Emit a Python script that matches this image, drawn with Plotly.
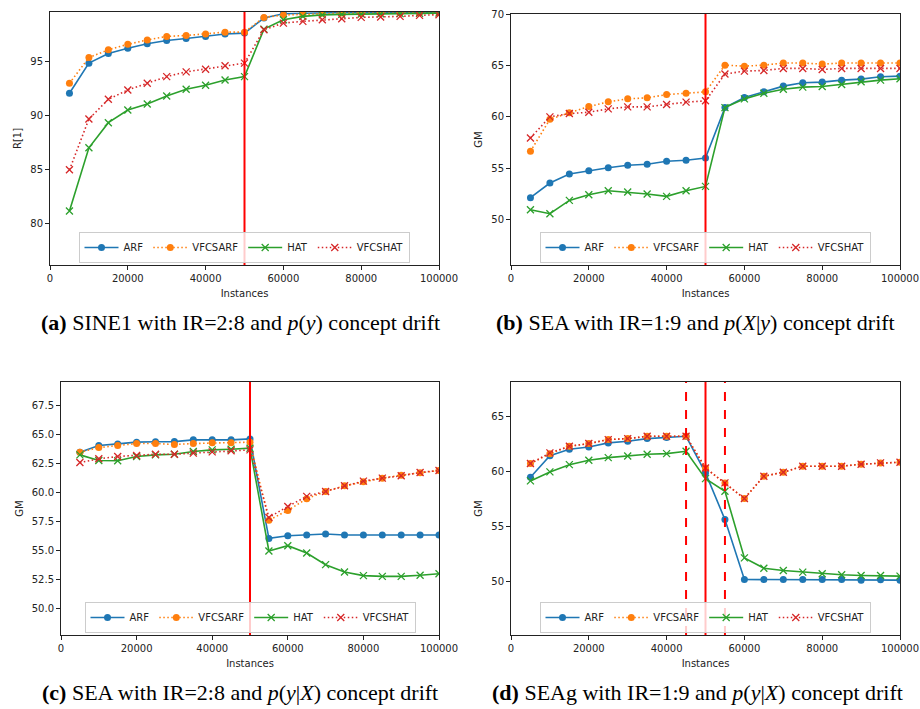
import plotly.graph_objects as go

W, H = 920, 709

instances = [5000, 10000, 15000, 20000, 25000, 30000, 35000, 40000, 45000, 50000,
             55000, 60000, 65000, 70000, 75000, 80000, 85000, 90000, 95000, 100000]
series_names = ["ARF", "VFCSARF", "HAT", "VFCSHAT"]

# (a) SINE1, R[1]
a_arf = [92.05, 94.85, 95.75, 96.24, 96.65, 96.96, 97.14, 97.33, 97.55, 97.64,
         99.04, 99.44, 99.50, 99.55, 99.55, 99.56, 99.56, 99.57, 99.57, 99.58]
a_vfcsarf = [92.98, 95.37, 96.09, 96.60, 97.00, 97.33, 97.42, 97.55, 97.73, 97.73,
             99.10, 99.32, 99.40, 99.48, 99.50, 99.50, 99.50, 99.52, 99.52, 99.53]
a_hat = [81.12, 86.99, 89.32, 90.50, 91.06, 91.80, 92.42, 92.80, 93.29, 93.60,
         98.01, 98.88, 99.19, 99.33, 99.38, 99.40, 99.43, 99.45, 99.47, 99.50]
a_vfcshat = [84.94, 89.66, 91.49, 92.36, 92.98, 93.60, 94.04, 94.29, 94.60, 94.85,
             97.95, 98.57, 98.73, 98.88, 98.97, 99.10, 99.13, 99.19, 99.29, 99.35]

# (b) SEA IR=1:9, GM
b_arf = [52.14, 53.57, 54.45, 54.77, 55.06, 55.29, 55.39, 55.68, 55.78, 56.00,
         60.90, 61.88, 62.43, 62.99, 63.31, 63.38, 63.57, 63.67, 63.90, 63.96]
b_vfcsarf = [56.65, 59.77, 60.39, 61.00, 61.46, 61.75, 61.85, 62.17, 62.30, 62.43,
             65.03, 64.93, 65.03, 65.23, 65.23, 65.13, 65.23, 65.23, 65.23, 65.23]
b_hat = [50.97, 50.58, 51.88, 52.43, 52.82, 52.69, 52.50, 52.27, 52.82, 53.24,
         60.90, 61.75, 62.30, 62.69, 62.89, 62.95, 63.15, 63.41, 63.57, 63.70]
b_vfcshat = [57.95, 60.00, 60.32, 60.45, 60.78, 60.97, 60.97, 61.20, 61.43, 61.56,
             64.16, 64.45, 64.51, 64.71, 64.71, 64.61, 64.71, 64.71, 64.71, 64.71]

# (c) SEA IR=2:8, GM
c_arf = [63.50, 64.08, 64.22, 64.37, 64.40, 64.42, 64.57, 64.57, 64.57, 64.65,
         56.05, 56.28, 56.34, 56.43, 56.34, 56.34, 56.34, 56.34, 56.34, 56.34]
c_vfcsarf = [63.50, 63.90, 64.08, 64.25, 64.25, 64.17, 64.25, 64.31, 64.31, 64.37,
             57.63, 58.47, 59.48, 60.11, 60.60, 60.94, 61.26, 61.52, 61.72, 61.92]
c_hat = [63.27, 62.78, 62.76, 63.13, 63.27, 63.33, 63.56, 63.70, 63.76, 63.85,
         54.96, 55.42, 54.79, 53.78, 53.15, 52.83, 52.77, 52.77, 52.86, 53.00]
c_vfcshat = [62.61, 62.93, 63.13, 63.22, 63.33, 63.33, 63.42, 63.53, 63.62, 63.70,
             57.86, 58.81, 59.68, 60.11, 60.60, 61.00, 61.26, 61.46, 61.75, 61.92]

# (d) SEAg IR=1:9, GM
d_arf = [59.45, 61.42, 62.00, 62.21, 62.58, 62.73, 62.97, 63.06, 63.18, 59.85,
         55.60, 50.15, 50.15, 50.15, 50.15, 50.15, 50.15, 50.09, 50.12, 50.09]
d_vfcsarf = [60.70, 61.60, 62.27, 62.52, 62.88, 62.97, 63.18, 63.18, 63.18, 60.30,
             58.94, 57.52, 59.55, 59.91, 60.46, 60.46, 60.46, 60.64, 60.76, 60.82]
d_hat = [59.12, 59.94, 60.60, 61.00, 61.24, 61.39, 61.55, 61.60, 61.82, 59.33,
         58.18, 52.12, 51.18, 50.97, 50.82, 50.67, 50.58, 50.52, 50.52, 50.46]
d_vfcshat = [60.70, 61.67, 62.27, 62.52, 62.88, 62.97, 63.18, 63.18, 63.18, 60.30,
             58.94, 57.52, 59.55, 59.91, 60.46, 60.46, 60.46, 60.64, 60.76, 60.82]

x_ticks = [0, 20000, 40000, 60000, 80000, 100000]
captions = [
    "<b>(a)</b> SINE1 with IR=2:8 and <i>p</i>(<i>y</i>) concept drift",
    "<b>(b)</b> SEA with IR=1:9 and <i>p</i>(<i>X</i>|<i>y</i>) concept drift",
    "<b>(c)</b> SEA with IR=2:8 and <i>p</i>(<i>y</i>|<i>X</i>) concept drift",
    "<b>(d)</b> SEAg with IR=1:9 and <i>p</i>(<i>y</i>|<i>X</i>) concept drift",
]
y_titles = ["R[1]", "GM", "GM", "GM"]
y_ranges = [[76.1, 99.6], [45.6, 70.0], [47.7, 69.57], [45.1, 68.12]]
y_ticks = [[80, 85, 90, 95], [50, 55, 60, 65, 70],
           [50.0, 52.5, 55.0, 57.5, 60.0, 62.5, 65.0, 67.5], [50, 55, 60, 65]]
y_tickfmt = ["", "", ".1f", ""]
drift_solid = [[50000], [50000], [50000], [50000]]
drift_dashed = [[], [], [], [45000, 55000]]

panels = [
    [a_arf, a_vfcsarf, a_hat, a_vfcshat],
    [b_arf, b_vfcsarf, b_hat, b_vfcshat],
    [c_arf, c_vfcsarf, c_hat, c_vfcshat],
    [d_arf, d_vfcsarf, d_hat, d_vfcshat],
]

# pixel boxes of the axes: (left, top, right, bottom)
boxes = [(50, 12, 439, 265), (511, 14, 900, 265), (61, 382, 439, 635), (511, 382, 900, 635)]
legend_bottoms = [263, 263, 633, 633]
legend_centers = [244, 705, 250, 705]
caption_pos = [(240, 322), (695, 322), (240, 692), (697, 692)]

colors = ["#1f77b4", "#ff7f0e", "#2ca02c", "#d62728"]
dashes = ["solid", "1.5px,2.5px", "solid", "1.5px,2.5px"]
symbols = ["circle", "circle", "x-thin", "x-thin"]

fig = go.Figure()
font = dict(family="DejaVu Sans", size=10, color="#222222")

for i, (vals, box) in enumerate(zip(panels, boxes)):
    sfx = "" if i == 0 else str(i + 1)
    xa, ya = "x" + sfx, "y" + sfx
    lg = "legend" + sfx
    for j, name in enumerate(series_names):
        if symbols[j] == "circle":
            marker = dict(symbol="circle", size=7, color=colors[j], line=dict(width=0))
        else:
            marker = dict(symbol="x-thin", size=7, color=colors[j],
                          line=dict(width=1.3, color=colors[j]))
        fig.add_trace(go.Scatter(
            x=instances, y=vals[j], name=name, mode="lines+markers",
            line=dict(color=colors[j], width=1.6, dash=dashes[j]),
            marker=marker, xaxis=xa, yaxis=ya, legend=lg,
        ))
    l, t, r, b = box
    xdom = [l / W, r / W]
    ydom = [1 - b / H, 1 - t / H]
    axcommon = dict(showline=True, mirror=True, linecolor="#222222", linewidth=1,
                    ticks="outside", ticklen=4, tickwidth=1, tickcolor="#222222",
                    showgrid=False, zeroline=False, tickfont=font, automargin=False)
    fig.update_layout(**{
        "xaxis" + sfx: dict(domain=xdom, range=[0, 100000], tickvals=x_ticks,
                             tickformat="d", anchor=ya,
                             title=dict(text="Instances", font=font, standoff=6),
                             **axcommon),
        "yaxis" + sfx: dict(domain=ydom, range=y_ranges[i], tickvals=y_ticks[i],
                             tickformat=y_tickfmt[i], anchor=xa,
                             title=dict(text=y_titles[i], font=font, standoff=6),
                             **axcommon),
        lg: dict(orientation="h", x=legend_centers[i] / W, xanchor="center",
                 y=1 - legend_bottoms[i] / H, yanchor="bottom",
                 bgcolor="rgba(255,255,255,0.8)", bordercolor="#cccccc", borderwidth=1,
                 font=font, itemwidth=34, tracegroupgap=0),
    })
    for xv in drift_solid[i]:
        fig.add_shape(type="line", xref=xa, yref=ya + " domain", x0=xv, x1=xv, y0=0, y1=1,
                      line=dict(color="#ff0000", width=2))
    for xv in drift_dashed[i]:
        fig.add_shape(type="line", xref=xa, yref=ya + " domain", x0=xv, x1=xv, y0=0, y1=1,
                      line=dict(color="#ff0000", width=2, dash="dash"))
    cx, cy = caption_pos[i]
    fig.add_annotation(text=captions[i], xref="paper", yref="paper", x=cx / W, y=1 - cy / H,
                       xanchor="center", yanchor="middle", showarrow=False,
                       font=dict(family="Liberation Serif", size=22, color="black"))

fig.update_layout(width=W, height=H, margin=dict(l=0, r=0, t=0, b=0, autoexpand=False),
                  paper_bgcolor="white", plot_bgcolor="white", showlegend=True)

fig.write_html("out.html", config={"displayModeBar": False},
               post_script="document.body.style.margin='0px';document.body.style.overflow='hidden';")
